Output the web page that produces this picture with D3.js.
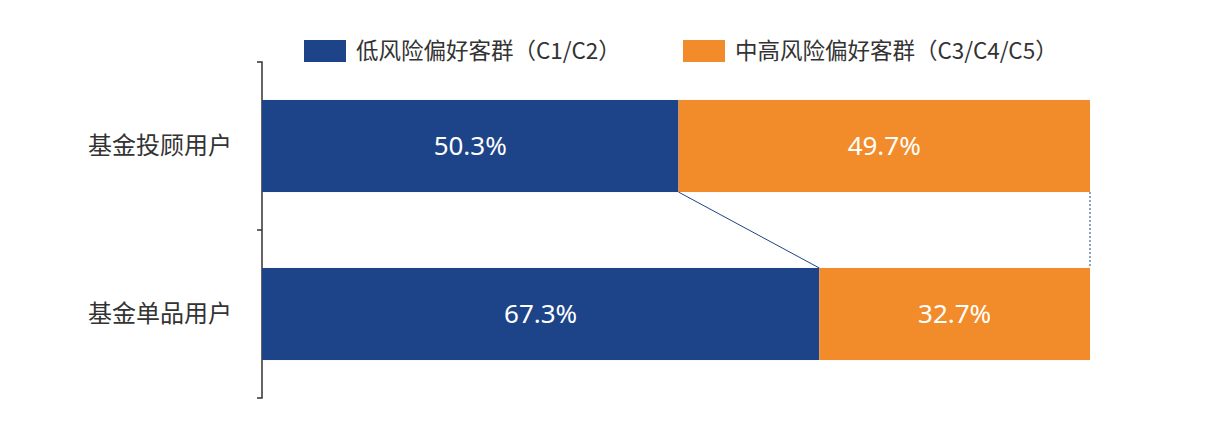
<!DOCTYPE html>
<html><head><meta charset="utf-8">
<script src="https://cdn.jsdelivr.net/npm/d3@7"></script>
<style>body{margin:0;background:#fff;font-family:"Noto Sans CJK SC","Noto Sans",sans-serif}</style>
</head><body><svg id="c" width="1230" height="428"></svg>
<script>
// data
const categories = ['基金投顾用户', '基金单品用户']
const seriesNames = ['低风险偏好客群（C1/C2）', '中高风险偏好客群（C3/C4/C5）']
const lowRisk = [50.3, 67.3]
const highRisk = [49.7, 32.7]
const colors = ['#1d4489', '#f28c2b']

const svg = d3.select('#c')
const x = d3.scaleLinear().domain([0, 100]).range([262, 1090])
const y = d3.scaleBand().domain(categories).range([62, 398]).paddingInner(0.452).paddingOuter(0.226)

// left axis
const ax = svg.append('g').attr('transform', 'translate(262,0)')
  .call(d3.axisLeft(y).tickSize(0).tickPadding(30))
ax.select('.domain').remove()
ax.selectAll('text').attr('font-size', 24).attr('fill', '#333')
  .attr('font-family', '"Noto Sans CJK SC",sans-serif')
svg.append('path').attr('d', 'M257,62H262V398H257').attr('fill', 'none').attr('stroke', '#333').attr('stroke-width', 1.5)
svg.append('line').attr('x1', 257).attr('x2', 262).attr('y1', 230).attr('y2', 230).attr('stroke', '#333').attr('stroke-width', 1.5)

// stacked bars
const rows = categories.map((c, i) => ({ c, parts: [[0, lowRisk[i]], [lowRisk[i], lowRisk[i] + highRisk[i]]] }))
rows.forEach(r => {
  r.parts.forEach((p, j) => {
    svg.append('rect').attr('x', x(p[0])).attr('y', y(r.c)).attr('width', x(p[1]) - x(p[0]))
      .attr('height', y.bandwidth()).attr('fill', colors[j])
    svg.append('text').attr('x', (x(p[0]) + x(p[1])) / 2).attr('y', y(r.c) + y.bandwidth() / 2)
      .attr('text-anchor', 'middle').attr('dy', '0.35em').attr('fill', '#fff').attr('font-size', 26)
      .attr('font-family', '"Noto Sans",sans-serif')
      .text(d3.format('.1f')(p[1] - p[0]) + '%')
  })
})

// connector lines between bars
const y0 = y(categories[0]) + y.bandwidth(), y1 = y(categories[1])
svg.append('line').attr('x1', x(lowRisk[0])).attr('y1', y0).attr('x2', x(lowRisk[1])).attr('y2', y1)
  .attr('stroke', '#1d4489').attr('stroke-width', 1)
svg.append('line').attr('x1', x(100)).attr('y1', y0).attr('x2', x(100)).attr('y2', y1)
  .attr('stroke', '#1d4489').attr('stroke-width', 1).attr('stroke-dasharray', '2,2')

// legend
const lx = [304, 683]
seriesNames.forEach((n, i) => {
  svg.append('rect').attr('x', lx[i]).attr('y', 40).attr('width', 42).attr('height', 22).attr('fill', colors[i])
  svg.append('text').attr('x', lx[i] + 52).attr('y', 51).attr('dy', '0.35em').attr('font-size', 22.5)
    .attr('fill', '#333').text(n)
})
</script></body></html>
